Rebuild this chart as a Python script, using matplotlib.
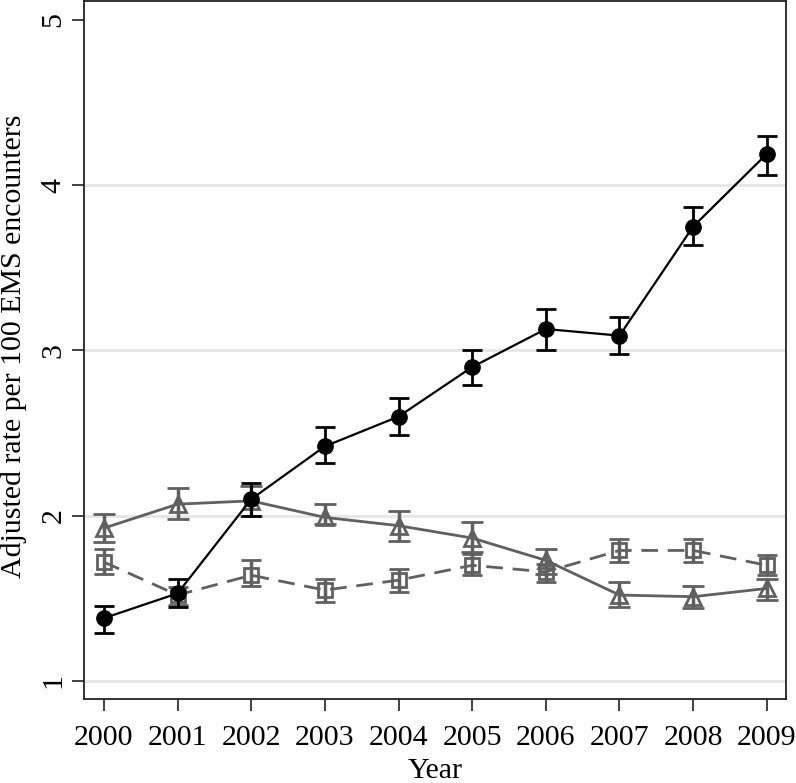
import matplotlib
matplotlib.use("Agg")
import matplotlib.pyplot as plt

years = [2000, 2001, 2002, 2003, 2004, 2005, 2006, 2007, 2008, 2009]

circle_vals = [1.38, 1.53, 2.10, 2.42, 2.60, 2.90, 3.13, 3.09, 3.75, 4.19]
circle_lo   = [1.29, 1.45, 2.00, 2.32, 2.49, 2.79, 3.00, 2.98, 3.64, 4.06]
circle_hi   = [1.455, 1.62, 2.20, 2.54, 2.71, 3.00, 3.25, 3.20, 3.87, 4.30]

tri_vals = [1.925, 2.07, 2.09, 1.99, 1.94, 1.865, 1.73, 1.52, 1.51, 1.56]
tri_lo   = [1.84, 1.98, 2.00, 1.95, 1.85, 1.78, 1.65, 1.45, 1.44, 1.49]
tri_hi   = [2.01, 2.17, 2.18, 2.07, 2.03, 1.96, 1.80, 1.60, 1.575, 1.615]

sq_vals = [1.72, 1.52, 1.64, 1.55, 1.61, 1.70, 1.66, 1.79, 1.79, 1.70]
sq_lo   = [1.65, 1.46, 1.575, 1.48, 1.54, 1.64, 1.60, 1.72, 1.72, 1.64]
sq_hi   = [1.80, 1.57, 1.73, 1.62, 1.68, 1.77, 1.71, 1.86, 1.86, 1.76]

y_ticks = [1, 2, 3, 4, 5]
grid_vals = [1, 2, 3, 4]

plt.rcParams['font.family'] = ['Liberation Serif', 'DejaVu Serif']

fig = plt.figure(figsize=(7.96, 7.83), dpi=100)
ax = fig.add_axes([0.1055, 0.1073, 0.8819, 0.8914])

gray = '#606060'

for g in grid_vals:
    ax.axhline(g, color='#e6e6e6', lw=2, zorder=0)

def err(vals, lo, hi):
    return [[v - l for v, l in zip(vals, lo)], [h - v for v, h in zip(vals, hi)]]

ax.errorbar(years, sq_vals, yerr=err(sq_vals, sq_lo, sq_hi), color=gray, ls=(0, (6, 3.5)),
            lw=2, marker='s', markersize=9.5, markerfacecolor='none', markeredgewidth=2,
            ecolor=gray, elinewidth=2.5, capsize=7, capthick=2.5, zorder=2)
ax.errorbar(years, tri_vals, yerr=err(tri_vals, tri_lo, tri_hi), color=gray, ls='-',
            lw=2, marker='^', markersize=11, markerfacecolor='none', markeredgewidth=2,
            ecolor=gray, elinewidth=2.5, capsize=8, capthick=2.5, zorder=3)
ax.errorbar(years, circle_vals, yerr=err(circle_vals, circle_lo, circle_hi), color='black', ls='-',
            lw=1.6, marker='o', markersize=11, markerfacecolor='black',
            ecolor='black', elinewidth=2, capsize=7, capthick=2, zorder=4)

ax.set_xlim(1999.73, 2009.26)
ax.set_ylim(0.891, 5.115)
ax.set_xticks(years)
ax.set_xticklabels([str(y) for y in years])
ax.set_yticks(y_ticks)
ax.set_yticklabels([str(y) for y in y_ticks], rotation=90, va='center')

ax.tick_params(axis='both', direction='out', length=8.5, width=1.3, labelsize=21.5, color='#333333')
ax.tick_params(axis='x', pad=10)
ax.tick_params(axis='y', pad=4)

for s in ax.spines.values():
    s.set_linewidth(1.3)
    s.set_color('#222222')

ax.set_xlabel('Year', fontsize=21.5)
ax.xaxis.set_label_coords(0.5, -0.084)
ax.xaxis.label.set_va('top')
ax.set_ylabel('Adjusted rate per 100 EMS encounters', fontsize=21.5)
ax.yaxis.set_label_coords(-0.081, 0.505)

fig.savefig('out.png', dpi=100)
